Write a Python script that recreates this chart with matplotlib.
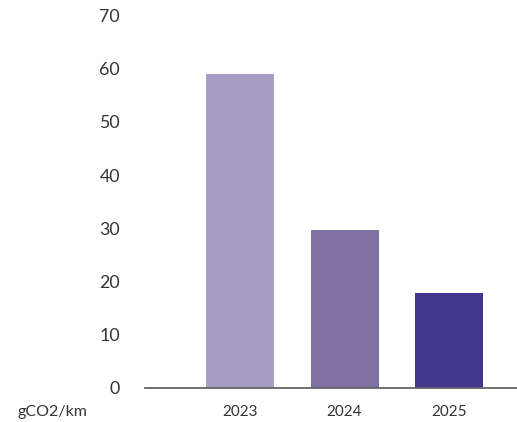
import matplotlib
matplotlib.use("Agg")
import matplotlib.pyplot as plt

# Emission data
years = ["2023", "2024", "2025"]
emissions = [59.0, 29.7, 17.8]
bar_colors = ["#a79cc4", "#7f71a3", "#43378b"]
y_ticks = [0, 10, 20, 30, 40, 50, 60, 70]
unit_label = "gCO2/km"

plt.rcParams["font.family"] = ["Lato", "DejaVu Sans"]

W, H, DPI = 517, 422, 100
fig = plt.figure(figsize=(W / DPI, H / DPI), dpi=DPI)

left, right, bottom, top = 145, 517, 388, 15.3
ax = fig.add_axes([left / W, 1 - bottom / H, (right - left) / W, (bottom - top) / H])

x = range(len(years))
ax.bar(x, emissions, width=0.65, color=bar_colors, zorder=2)

ax.set_ylim(0, 70)
ax.set_xlim(-0.909, 2.65)
ax.set_yticks(y_ticks)
ax.set_yticklabels([str(t) for t in y_ticks], fontsize=12.8, color="#333333")
ax.set_xticks(list(x))
ax.set_xticklabels(years, fontsize=11, color="#333333")
ax.tick_params(axis="y", length=0, pad=18)
ax.tick_params(axis="x", length=0, pad=12)

for side in ("top", "right", "left"):
    ax.spines[side].set_visible(False)
ax.spines["bottom"].set_color("#666666")
ax.spines["bottom"].set_linewidth(1.3)

fig.text(17 / W, 1 - 411.7 / H, unit_label, fontsize=11.5, color="#333333",
         ha="left", va="center")

fig.savefig("out.png", dpi=DPI)
